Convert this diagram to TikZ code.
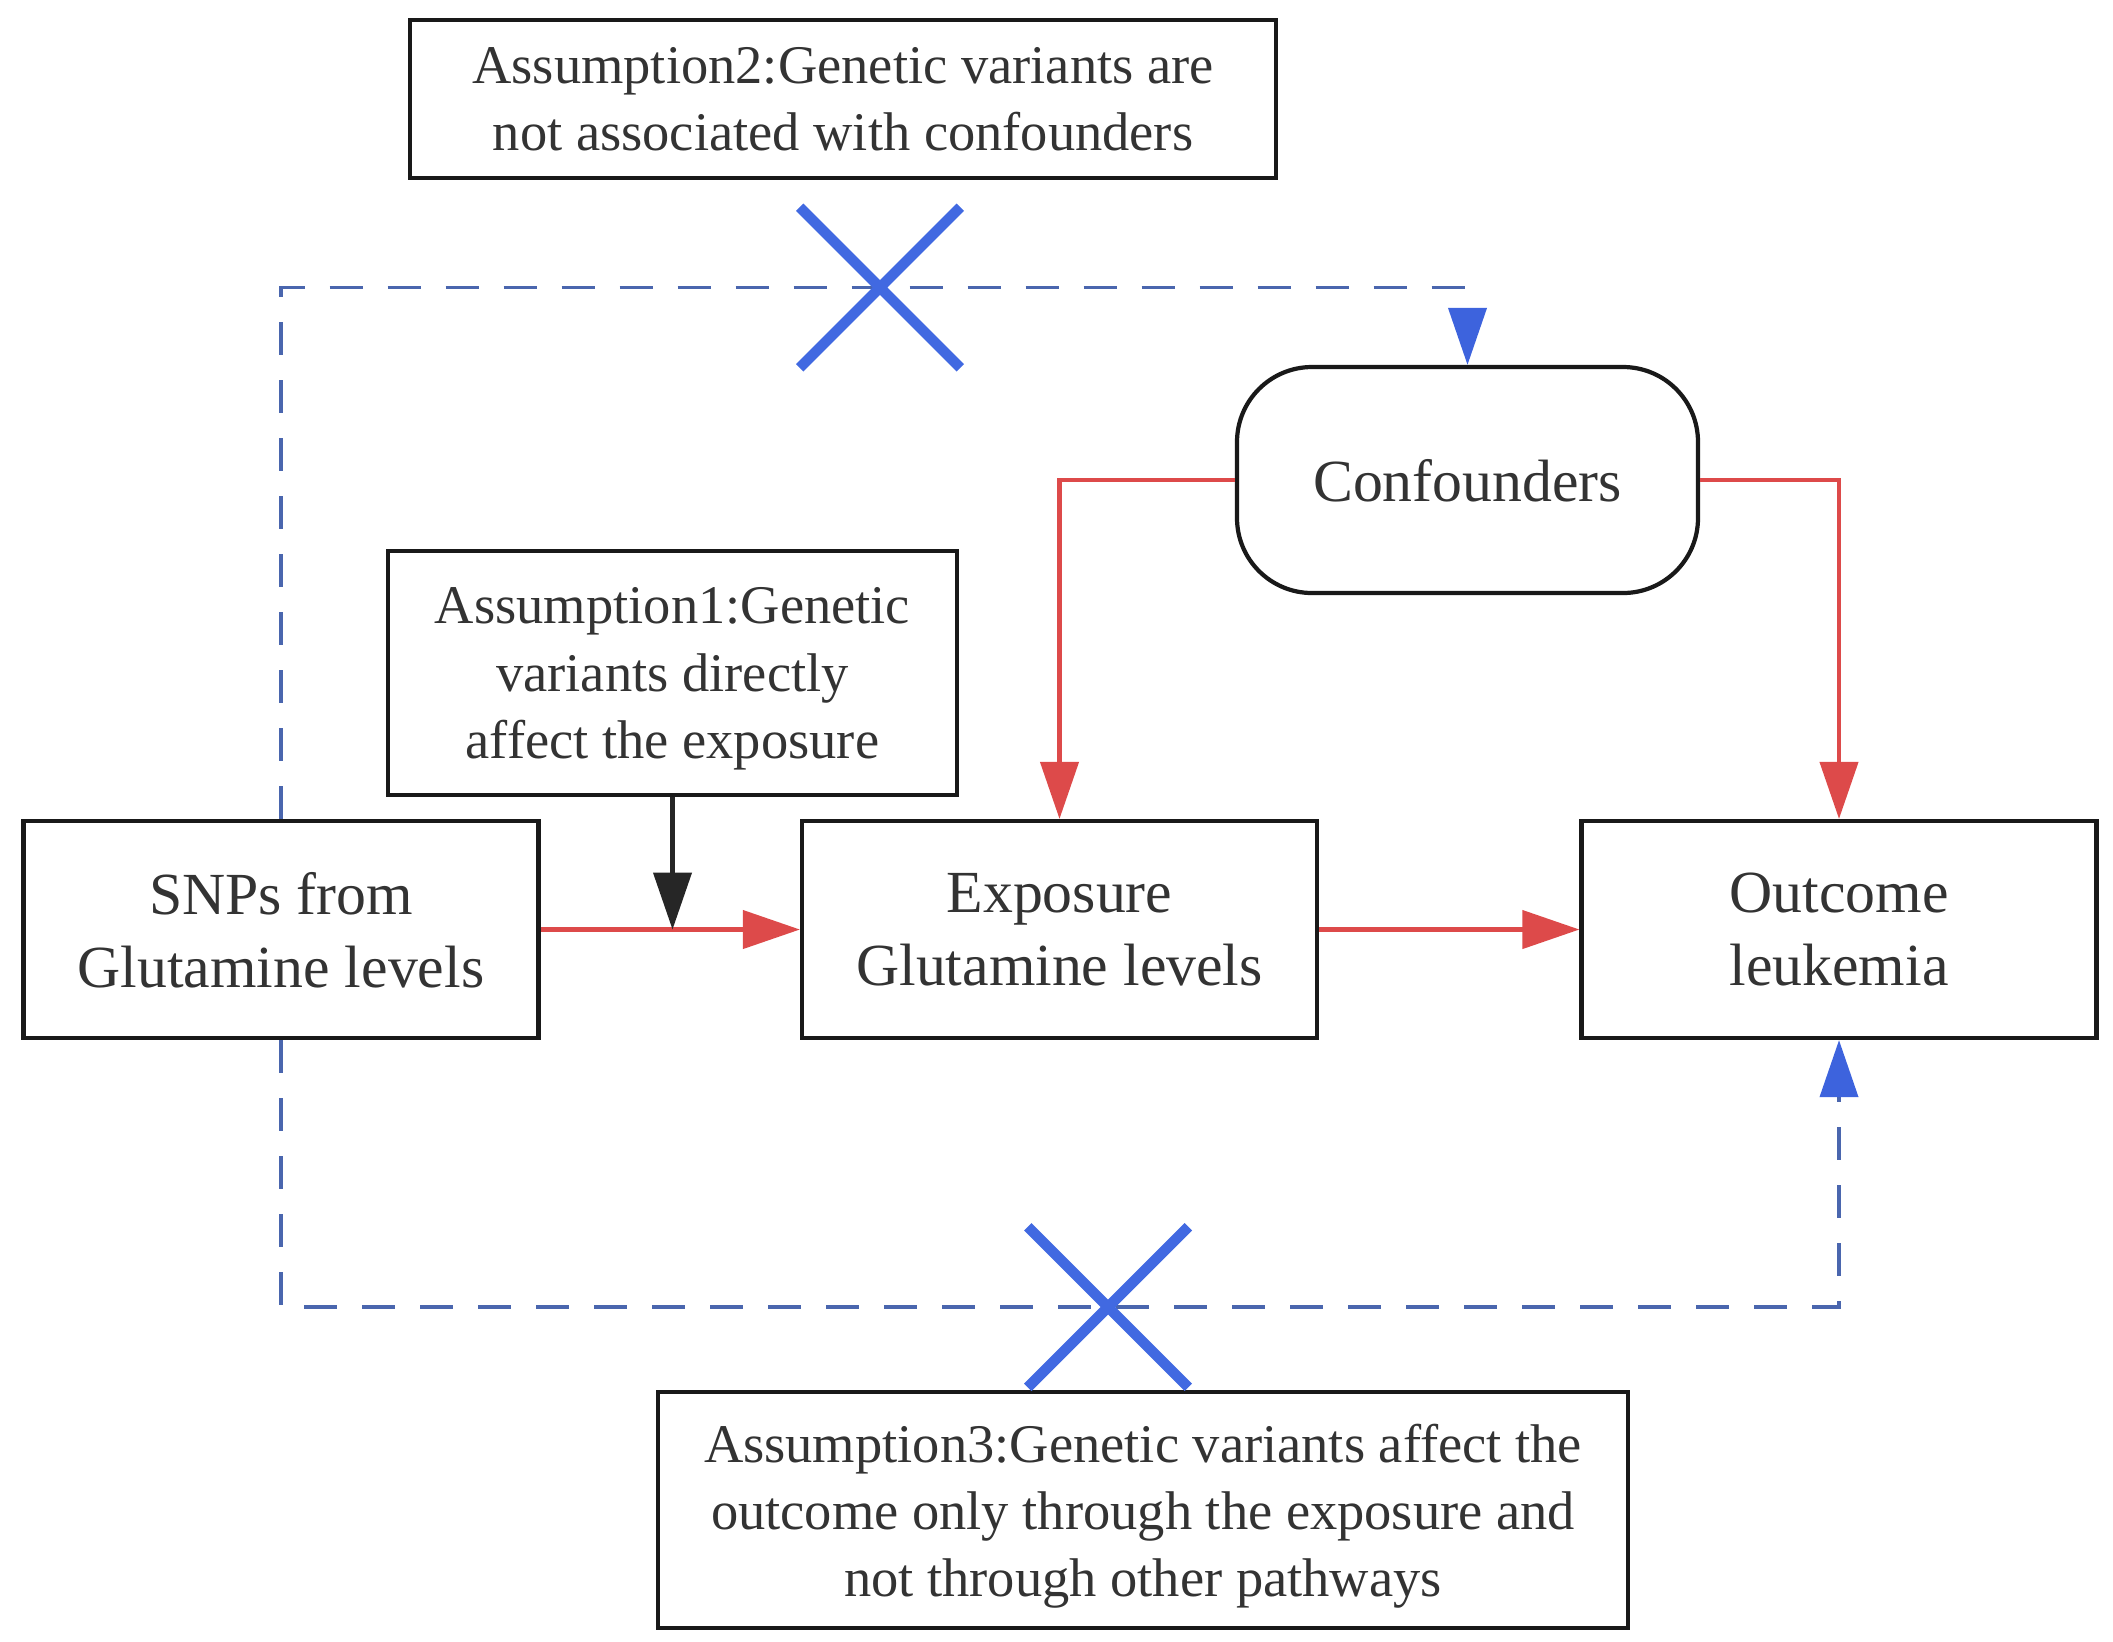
\documentclass[tikz,border=0pt]{standalone}
\usepackage{fontspec}
\setmainfont{Liberation Serif}
\usetikzlibrary{arrows.meta,shapes.misc}

\definecolor{linkred}{HTML}{DD4A4A}
\definecolor{dashblue}{HTML}{4A66AE}
\definecolor{tipblue}{HTML}{3D63DD}
\definecolor{crossblue}{HTML}{4169E1}
\definecolor{textgray}{HTML}{333333}

\begin{document}
\begin{tikzpicture}[
    box/.style={draw=black!90,line width=1.2pt,text=textgray,align=center,inner sep=0pt,text depth=-0.1cm},
    mainbox/.style={box,minimum width=5.15cm,minimum height=2.17cm,font=\mainfontsize},
    notebox/.style={box,font=\notefontsize},
    redarrow/.style={draw=linkred,line width=1.2pt,-{Triangle[length=5.7mm,width=3.8mm,fill=linkred]}},
    blackarrow/.style={draw=black!85,line width=1.2pt,-{Triangle[length=5.7mm,width=3.8mm]}},
    bluedash/.style={draw=dashblue,line width=1.1pt,dash pattern=on 3.3mm off 2.5mm,
        -{Triangle[length=5.7mm,width=3.8mm,fill=tipblue,color=tipblue]}},
    nocross/.style={cross out,draw=crossblue,line width=3pt,minimum size=1.5cm,inner sep=0pt}
]
    \providecommand{\mainfontsize}{\fontsize{17}{20.8}\selectfont}
    \providecommand{\notefontsize}{\fontsize{15.5}{19.1}\selectfont}
    \useasboundingbox (0,0) rectangle (21.13,-16.41);

    \node[mainbox] (snp) at (2.81,-9.295) {SNPs from\\Glutamine levels};
    \node[mainbox] (exp) at (10.595,-9.295) {Exposure\\Glutamine levels};
    \node[mainbox] (out) at (18.39,-9.295) {Outcome\\leukemia};
    \node[box,font=\mainfontsize,minimum width=4.61cm,minimum height=2.26cm,rounded corners=0.75cm] (conf) at (14.675,-4.80) {Confounders};

    \node[notebox,minimum width=8.66cm,minimum height=1.58cm] (asone) at (8.43,-0.99)
        {Assumption2:Genetic variants are\\not associated with confounders};
    \node[notebox,minimum width=5.69cm,minimum height=2.44cm] (astwo) at (6.725,-6.73)
        {Assumption1:Genetic\\variants directly\\affect the exposure};
    \node[notebox,minimum width=9.70cm,minimum height=2.36cm] (asthree) at (11.43,-15.10)
        {Assumption3:Genetic variants affect the\\outcome only through the exposure and\\not through other pathways};

    \coordinate (topcross) at (8.80,-2.875);
    \coordinate (botcross) at (11.08,-13.07);

    % invalid paths
    \draw[bluedash] (snp.north) |- (topcross) -| (conf.north);
    \draw[bluedash] (snp.south) |- (botcross) -| (out.south);
    \node[nocross] (crossa) at (topcross) {};
    \node[nocross] (crossb) at (botcross) {};

    \draw[redarrow] (snp) -- (exp);
    \draw[redarrow] (exp) -- (out);
    \draw[redarrow] (conf.west) -| (exp.north);
    \draw[redarrow] (conf.east) -| (out.north);
    \draw[blackarrow] (astwo.south) -- (astwo.south |- snp.east);
\end{tikzpicture}
\end{document}
